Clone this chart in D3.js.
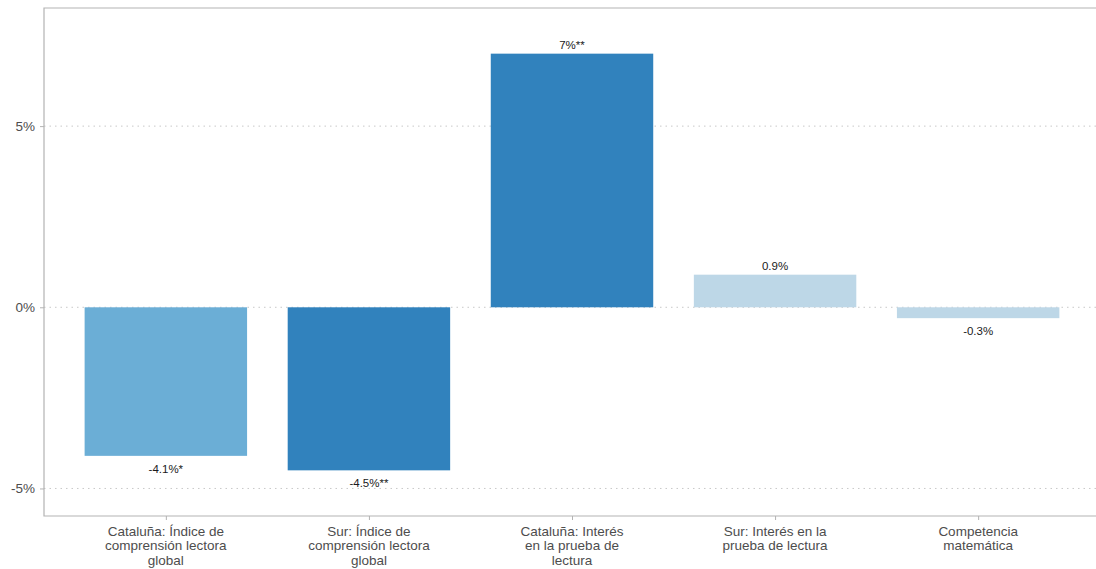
<!DOCTYPE html>
<html>
<head>
<meta charset="utf-8">
<script src="https://cdn.jsdelivr.net/npm/d3@7"></script>
<style>
  body { margin: 0; background: #fff; }
  svg { display: block; font-family: "Liberation Sans", Arial, sans-serif; }
</style>
</head>
<body>
<svg id="chart"></svg>
<script>
// data
const categories = [
  "Cataluña: Índice de comprensión lectora global",
  "Sur: Índice de comprensión lectora global",
  "Cataluña: Interés en la prueba de lectura",
  "Sur: Interés en la prueba de lectura",
  "Competencia matemática"
];
const values = [-4.1, -4.5, 7, 0.9, -0.3];
const stars = ["*", "**", "**", "", ""];
const yTicks = [-5, 0, 5];

const width = 1096, height = 569;
const margin = {left: 44, top: 8, right: -4, bottom: 53};

const svg = d3.select("#chart").attr("width", width).attr("height", height);

// ggplot style discrete scale: 0.6 unit expansion each side
const x = d3.scaleLinear()
  .domain([0.4, categories.length + 0.6])
  .range([margin.left, width - margin.right]);
const barW = 0.8 * (x(2) - x(1));

const y = d3.scaleLinear()
  .domain([-5.76, 8.26])
  .range([height - margin.bottom, margin.top]);

const color = d3.scaleOrdinal()
  .domain(["**", "*", ""])
  .range(["#3182bd", "#6baed6", "#bdd7e7"]);

// grid
svg.append("g").selectAll("line")
  .data(yTicks)
  .join("line")
  .attr("x1", margin.left).attr("x2", width)
  .attr("y1", d => y(d)).attr("y2", d => y(d))
  .attr("stroke", "#c8c8c8")
  .attr("stroke-width", 1)
  .attr("stroke-dasharray", "1.5,4");

// bars
svg.append("g").selectAll("rect")
  .data(values)
  .join("rect")
  .attr("x", (d, i) => x(i + 1) - barW / 2)
  .attr("width", barW)
  .attr("y", d => y(Math.max(0, d)))
  .attr("height", d => Math.abs(y(d) - y(0)))
  .attr("fill", (d, i) => color(stars[i]));

// value labels
svg.append("g").selectAll("text")
  .data(values)
  .join("text")
  .attr("x", (d, i) => x(i + 1))
  .attr("y", d => d >= 0 ? y(d) - 5 : y(d) + 17)
  .attr("text-anchor", "middle")
  .attr("font-size", 11.5)
  .attr("fill", "#1a1a1a")
  .text((d, i) => d + "%" + stars[i]);

// panel border (left, top, bottom)
const x0 = margin.left, y0 = margin.top, y1 = height - margin.bottom;
svg.append("path")
  .attr("d", `M${width + 5},${y0}H${x0}V${y1}H${width + 5}`)
  .attr("fill", "none")
  .attr("stroke", "#b3b3b3")
  .attr("stroke-width", 1.2);

// y axis
const yAxis = svg.append("g")
  .attr("transform", `translate(${margin.left},0)`)
  .call(d3.axisLeft(y).tickValues(yTicks).tickFormat(d => d + "%").tickSize(4).tickPadding(5));
yAxis.select(".domain").remove();
yAxis.selectAll("line").attr("stroke", "#b3b3b3");
yAxis.selectAll("text").attr("font-size", 13.5).attr("fill", "#4d4d4d")
  .attr("font-family", "Liberation Sans, Arial, sans-serif");

// x axis with wrapped labels
function wrap(s, maxChars) {
  const words = s.split(" ");
  const lines = [];
  let cur = "";
  words.forEach(w => {
    const next = cur ? cur + " " + w : w;
    if (next.length > maxChars && cur) { lines.push(cur); cur = w; }
    else cur = next;
  });
  if (cur) lines.push(cur);
  return lines;
}

const xAxis = svg.append("g")
  .attr("transform", `translate(0,${y1})`)
  .call(d3.axisBottom(x).tickValues(d3.range(1, categories.length + 1)).tickFormat("").tickSize(4));
xAxis.select(".domain").remove();
xAxis.selectAll("line").attr("stroke", "#b3b3b3");

const xl = svg.append("g").selectAll("text")
  .data(categories)
  .join("text")
  .attr("x", (d, i) => x(i + 1))
  .attr("y", y1 + 19.5)
  .attr("text-anchor", "middle")
  .attr("font-size", 13.5)
  .attr("fill", "#4d4d4d");
xl.each(function(d, i) {
  d3.select(this).selectAll("tspan")
    .data(wrap(d, 19))
    .join("tspan")
    .attr("x", x(i + 1))
    .attr("dy", (l, j) => j ? 14.8 : 0)
    .text(l => l);
});
</script>
</body>
</html>
